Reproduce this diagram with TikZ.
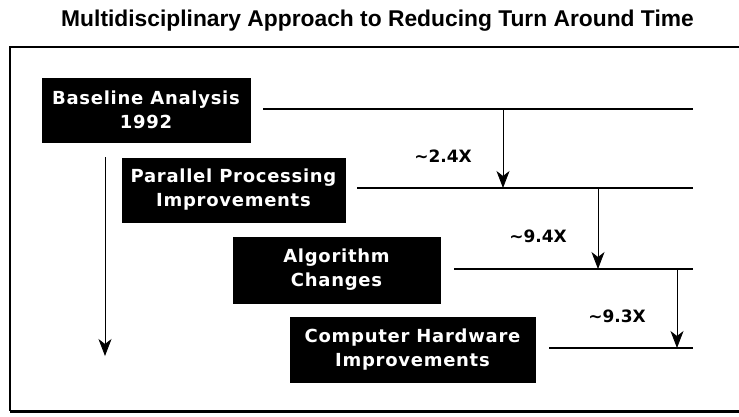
\documentclass[tikz,border=0pt]{standalone}
\usepackage{fontspec}
\setmainfont{Liberation Sans}
\newfontfamily\boxfont[LetterSpace=4]{DejaVu Sans}
\newfontfamily\factorfont{DejaVu Sans}
\usetikzlibrary{arrows.meta}
\tikzset{
  stagebox/.style={fill=black, draw=black, text=white, inner sep=0pt, align=center,
    font=\boxfont\bfseries\fontsize{18}{24}\selectfont},
  factor/.style={inner sep=0pt, font=\factorfont\bfseries\fontsize{17}{20}\selectfont},
  level/.style={line width=1.4pt},
  gain/.style={line width=0.8pt, -{Stealth[length=17pt,width=13pt,inset=5pt]}},
  frameline/.style={line width=1.1pt},
}
\begin{document}
\begin{tikzpicture}[x=1pt,y=-1pt]
\useasboundingbox (0,0) rectangle (739,416);
% title
\node[font=\bfseries\fontsize{22.8}{24}\selectfont, anchor=base] (title) at (377.5,26) {Multidisciplinary Approach to Reducing Turn Around Time};
% frame
\coordinate (ftl) at (10,47);
\coordinate (ftr) at (739,47);
\coordinate (fbl) at (10,411);
\coordinate (fbr) at (739,411);
\draw[frameline] (ftr) -- (ftl) -- (fbl);
\draw[line width=3pt] (fbl) -- (fbr);
% boxes
\node[stagebox, minimum width=208pt, minimum height=64pt] (b1) at (146,110) {Baseline Analysis\\1992};
\node[stagebox, minimum width=223pt, minimum height=64pt] (b2) at (233.5,190) {Parallel Processing\\Improvements};
\node[stagebox, minimum width=207pt, minimum height=66pt] (b3) at (336.5,270) {Algorithm\\Changes};
\node[stagebox, minimum width=245pt, minimum height=65pt] (b4) at (412.5,349.5) {Computer Hardware\\Improvements};
% level lines
\coordinate (l1s) at (263,109); \coordinate (l1e) at (693,109);
\coordinate (l2s) at (357,188); \coordinate (l2e) at (693,188);
\coordinate (l3s) at (454,269); \coordinate (l3e) at (693,269);
\coordinate (l4s) at (549,348); \coordinate (l4e) at (693,348);
\draw[level] (l1s) -- (l1e);
\draw[level] (l2s) -- (l2e);
\draw[level] (l3s) -- (l3e);
\draw[level] (l4s) -- (l4e);
% gain arrows
\coordinate (a1s) at (503,109); \coordinate (a1e) at (503,188);
\coordinate (a2s) at (598,188); \coordinate (a2e) at (598,269);
\coordinate (a3s) at (677,269); \coordinate (a3e) at (677,348);
\draw[gain] (a1s) -- (a1e);
\draw[gain] (a2s) -- (a2e);
\draw[gain] (a3s) -- (a3e);
\node[factor] (f1) at (443,156) {\textasciitilde2.4X};
\node[factor] (f2) at (538,236) {\textasciitilde9.4X};
\node[factor] (f3) at (617,316) {\textasciitilde9.3X};
% time arrow
\coordinate (ts) at (105,157);
\coordinate (te) at (105,356);
\draw[gain] (ts) -- (te);
\end{tikzpicture}
\end{document}
